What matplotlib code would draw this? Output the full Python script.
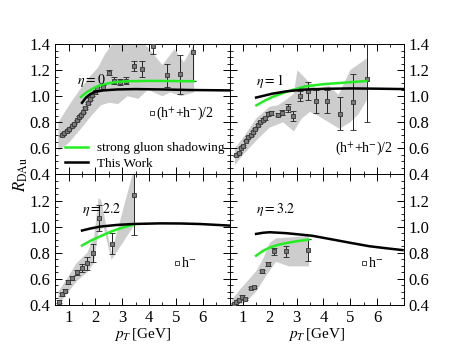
import numpy as np
import matplotlib
matplotlib.use("Agg")
import matplotlib.pyplot as plt
from matplotlib.ticker import MultipleLocator

plt.rcParams['font.family'] = 'serif'
plt.rcParams['font.serif'] = ['Liberation Serif', 'DejaVu Serif']
plt.rcParams['mathtext.fontset'] = 'stix'

# ---- eta = 0, (h+ + h-)/2
pt0 = [0.75, 0.84, 0.93, 1.02, 1.12, 1.20, 1.30, 1.39, 1.46, 1.54, 1.62, 1.71, 1.80, 1.87, 1.98,
       2.07, 2.29, 2.50, 2.70, 2.91, 3.15, 3.44, 3.75, 4.14, 4.66, 5.14, 5.65]
r0 = [0.70, 0.72, 0.733, 0.75, 0.77, 0.79, 0.815, 0.84, 0.86, 0.877, 0.91, 0.95, 0.98, 1.01, 1.03,
      1.06, 1.07, 1.18, 1.12, 1.11, 1.12, 1.23, 1.21, 1.385, 1.16, 1.17, 1.34]
e0 = [0.005, 0.005, 0.005, 0.005, 0.005, 0.005, 0.005, 0.005, 0.005, 0.005, 0.007, 0.008, 0.01, 0.01, 0.01,
      0.012, 0.015, 0.02, 0.025, 0.025, 0.025, 0.04, 0.06, 0.06, 0.09, 0.15, 0.22]
band0_up_x = [0.62, 1.05, 1.45, 1.75, 2.1, 2.35, 2.6, 2.8, 3.7, 3.85, 4.5, 4.95, 5.3, 5.68]
band0_up_y = [0.80, 0.94, 1.06, 1.14, 1.22, 1.32, 1.39, 1.45, 1.45, 1.40, 1.24, 1.36, 1.26, 1.40]
band0_lo_x = [0.62, 1.0, 1.5, 1.85, 2.2, 2.5, 2.85, 3.2, 3.6, 3.95, 4.5, 4.8, 5.2, 5.68]
band0_lo_y = [0.58, 0.64, 0.76, 0.85, 0.93, 0.95, 0.94, 1.0, 0.98, 1.05, 1.0, 1.03, 1.0, 1.03]
green0_x = [1.46, 1.7, 2.0, 2.2, 2.5, 2.8, 3.2, 4.0, 4.8, 5.65]
green0_y = [0.995, 1.035, 1.07, 1.087, 1.10, 1.11, 1.115, 1.118, 1.117, 1.115]
black0_x = [1.5, 1.65, 1.8, 2.0, 2.3, 2.8, 3.5, 4.5, 5.5, 7.0]
black0_y = [0.95, 0.99, 1.015, 1.035, 1.045, 1.052, 1.055, 1.052, 1.048, 1.045]

# ---- eta = 1, (h+ + h-)/2
pt1 = [0.75, 0.84, 0.93, 1.02, 1.12, 1.20, 1.30, 1.38, 1.46, 1.55, 1.64, 1.73, 1.82, 1.92, 2.04,
       2.29, 2.47, 2.69, 2.88, 3.13, 3.44, 3.73, 4.12, 4.63, 5.12, 5.62]
r1 = [0.546, 0.567, 0.605, 0.618, 0.66, 0.687, 0.70, 0.725, 0.75, 0.78, 0.80, 0.82, 0.83, 0.867, 0.87,
      0.86, 0.875, 0.91, 0.85, 1.0, 1.04, 0.96, 0.96, 0.867, 0.955, 1.13]
e1 = [0.005, 0.005, 0.005, 0.005, 0.005, 0.005, 0.005, 0.005, 0.005, 0.006, 0.008, 0.01, 0.012, 0.015, 0.015,
      0.015, 0.02, 0.03, 0.04, 0.04, 0.07, 0.087, 0.087, 0.125, 0.215, 0.33]
band1_up_x = [0.7, 1.0, 1.5, 2.0, 2.3, 2.6, 2.9, 3.03, 3.5, 3.8, 4.2, 4.57, 5.0, 5.62]
band1_up_y = [0.60, 0.68, 0.83, 0.92, 0.93, 0.97, 1.02, 1.20, 1.10, 1.05, 1.08, 1.01, 1.20, 1.29]
band1_lo_x = [0.7, 1.0, 1.5, 2.0, 2.5, 2.9, 3.2, 3.5, 3.8, 4.2, 4.6, 5.0, 5.3, 5.62]
band1_lo_y = [0.47, 0.55, 0.66, 0.76, 0.80, 0.73, 0.83, 0.88, 0.85, 0.80, 0.75, 0.80, 0.86, 0.97]
green1_x = [1.5, 1.8, 2.1, 2.6, 3.3, 4.0, 4.5, 5.0, 5.6]
green1_y = [0.93, 0.965, 0.995, 1.033, 1.075, 1.093, 1.10, 1.108, 1.117]
black1_x = [1.49, 1.8, 2.1, 2.6, 3.2, 4.0, 5.0, 6.0, 7.0]
black1_y = [0.99, 1.005, 1.02, 1.037, 1.05, 1.057, 1.06, 1.058, 1.055]

# ---- eta = 2.2, h-
pt2 = [0.66, 0.77, 0.87, 0.97, 1.12, 1.30, 1.51, 1.70, 1.90, 2.14, 2.60, 3.44]
r2 = [0.425, 0.48, 0.51, 0.575, 0.605, 0.65, 0.68, 0.72, 0.80, 1.067, 0.87, 1.246]
e2 = [0.01, 0.012, 0.012, 0.015, 0.015, 0.02, 0.03, 0.05, 0.07, 0.10, 0.083, 0.31]
band2_up_x = [0.62, 1.0, 1.3, 1.7, 1.95, 2.12, 2.22, 2.6, 3.45]
band2_up_y = [0.50, 0.62, 0.72, 0.80, 0.92, 1.22, 1.20, 0.80, 1.45]
band2_lo_x = [0.62, 1.0, 1.3, 1.7, 1.95, 2.1, 2.3, 2.6, 3.45]
band2_lo_y = [0.40, 0.50, 0.58, 0.65, 0.72, 0.95, 1.0, 0.745, 1.01]
green2_x = [1.5, 1.8, 2.17, 2.5, 2.78, 3.1, 3.45]
green2_y = [0.855, 0.89, 0.925, 0.955, 0.977, 0.998, 1.018]
black2_x = [1.5, 1.8, 2.17, 2.8, 3.4, 4.4, 5.2, 5.9, 7.0]
black2_y = [0.97, 0.985, 1.0, 1.013, 1.02, 1.025, 1.024, 1.02, 1.008]

# ---- eta = 3.2, h-
pt3 = [0.65, 0.75, 0.87, 0.97, 1.06, 1.30, 1.43, 1.70, 1.92, 2.17, 2.60, 3.44]
r3 = [0.41, 0.42, 0.44, 0.464, 0.444, 0.528, 0.535, 0.656, 0.71, 0.81, 0.81, 0.82]
e3 = [0.005, 0.005, 0.006, 0.008, 0.006, 0.006, 0.006, 0.01, 0.015, 0.025, 0.04, 0.087]
band3_up_x = [0.6, 0.9, 1.25, 1.5, 1.75, 2.0, 2.23, 2.97, 3.45]
band3_up_y = [0.44, 0.52, 0.60, 0.66, 0.75, 0.875, 0.91, 0.92, 0.93]
band3_lo_x = [0.6, 1.0, 1.2, 1.49, 1.86, 2.23, 2.72, 3.46]
band3_lo_y = [0.40, 0.41, 0.44, 0.50, 0.62, 0.73, 0.695, 0.695]
green3_x = [1.49, 1.75, 2.0, 2.3, 2.6, 3.0, 3.44]
green3_y = [0.777, 0.815, 0.84, 0.86, 0.873, 0.888, 0.90]
black3_x = [1.49, 1.75, 2.0, 2.6, 3.0, 3.58, 4.45, 5.0, 5.7, 6.3, 6.95]
black3_y = [0.944, 0.953, 0.957, 0.95, 0.942, 0.93, 0.897, 0.876, 0.85, 0.835, 0.82]

panels = [
    (pt0, r0, e0, band0_up_x, band0_up_y, band0_lo_x, band0_lo_y, green0_x, green0_y, black0_x, black0_y),
    (pt1, r1, e1, band1_up_x, band1_up_y, band1_lo_x, band1_lo_y, green1_x, green1_y, black1_x, black1_y),
    (pt2, r2, e2, band2_up_x, band2_up_y, band2_lo_x, band2_lo_y, green2_x, green2_y, black2_x, black2_y),
    (pt3, r3, e3, band3_up_x, band3_up_y, band3_lo_x, band3_lo_y, green3_x, green3_y, black3_x, black3_y),
]
eta_labels = [r'$\eta = 0$', r'$\eta = 1$', r'$\eta = 2.2$', r'$\eta = 3.2$']
eta_pos = [(1.3, 1.12), (1.5, 1.12), (1.5, 1.13), (1.5, 1.13)]

fig, axes = plt.subplots(2, 2, figsize=(4.6, 3.5), dpi=100, sharex=True)
fig.subplots_adjust(left=0.12, right=0.878, top=0.874, bottom=0.129, wspace=0, hspace=0)
axs = axes.ravel()

for i, ax in enumerate(axs):
    pt, r, e, ux, uy, lx, ly, gx, gy, bx, by = panels[i]
    ax.fill(np.r_[ux, lx[::-1]], np.r_[uy, ly[::-1]], color='#cdcdcd', lw=0, zorder=1)
    ax.errorbar(pt, r, yerr=e, fmt='s', ms=2.2, mfc='#7a7a7a', mec='#333333', mew=0.6,
                ecolor='#222222', elinewidth=0.7, capsize=2.3, capthick=0.7, zorder=3)
    ax.plot(gx, gy, color='#22ee22', lw=1.8, zorder=4, label='strong gluon shadowing')
    ax.plot(bx, by, color='black', lw=1.8, zorder=4, label='This Work')

    ax.set_xlim(0.5, 7.0)
    ax.set_ylim(0.4, 1.4)
    ax.xaxis.set_major_locator(MultipleLocator(1))
    ax.xaxis.set_minor_locator(MultipleLocator(0.5))
    ax.yaxis.set_major_locator(MultipleLocator(0.2))
    ax.yaxis.set_minor_locator(MultipleLocator(0.05))
    ax.tick_params(which='both', direction='in', top=True, right=True, labelsize=12)
    ax.tick_params(which='major', length=5, width=0.7)
    ax.tick_params(which='minor', length=2.5, width=0.6)
    for s in ax.spines.values():
        s.set_linewidth(0.7)

    ax.text(eta_pos[i][0], eta_pos[i][1], eta_labels[i], fontsize=10, va='center', zorder=5)

for ax in axs[1::2]:
    ax.tick_params(labelleft=False, labelright=True)
for ax in axs[0::2]:
    ax.tick_params(labelleft=True)
for ax in axs[2:]:
    ax.set_xticks([1, 2, 3, 4, 5, 6])
    ax.set_xlabel(r'$p_T\,$[GeV]', fontsize=11, labelpad=0)
    ax.set_yticks([0.4, 0.6, 0.8, 1.0, 1.2])

# species labels
axs[0].plot([4.12], [0.87], 's', ms=3.5, mfc='white', mec='#444444', mew=0.7)
axs[0].text(4.27, 0.87, r'(h$^{+}$+h$^{-}$)/2', fontsize=10, va='center')
axs[1].text(4.45, 0.6, r'(h$^{+}$+h$^{-}$)/2', fontsize=10, va='center')
axs[2].plot([5.05], [0.72], 's', ms=3.5, mfc='white', mec='#444444', mew=0.7)
axs[2].text(5.2, 0.72, r'h$^{-}$', fontsize=10, va='center')
axs[3].plot([5.5], [0.72], 's', ms=3.5, mfc='white', mec='#444444', mew=0.7)
axs[3].text(5.65, 0.72, r'h$^{-}$', fontsize=10, va='center')

axs[0].legend(loc='lower left', bbox_to_anchor=(0.057, 0.035), frameon=False, fontsize=9.5,
              handlelength=1.75, handletextpad=0.7, labelspacing=0.25, borderaxespad=0,
              borderpad=0)

fig.text(0.045, 0.5, r'$R_{\rm DAu}$', rotation=90, va='center', ha='center', fontsize=12)

fig.savefig('out.png', dpi=100)
